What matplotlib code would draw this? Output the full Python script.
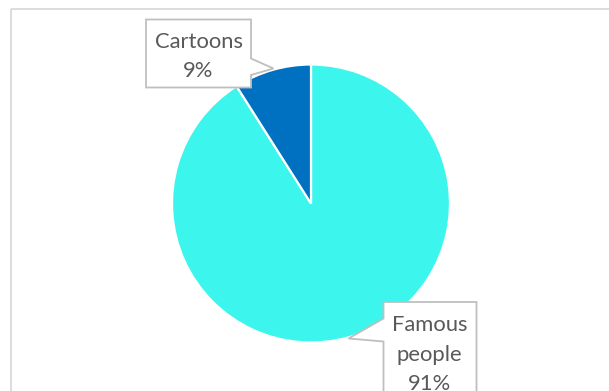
import matplotlib
matplotlib.use("Agg")
import matplotlib.pyplot as plt
from matplotlib.patches import Polygon
from matplotlib.lines import Line2D

# Chart data
categories = ["Famous people", "Cartoons"]
shares = [91, 9]
colors = ["#3CF6EE", "#0070C0"]
label_lines = [["Famous", "people"], ["Cartoons"]]

W, H = 609, 391
fig = plt.figure(figsize=(W / 100, H / 100), dpi=100)
ax = fig.add_axes([0, 0, 1, 1])
ax.set_xlim(0, W)
ax.set_ylim(0, H)
ax.set_aspect("equal")
ax.axis("off")


def px(x, y):
    """Convert top-left pixel coordinates to axes data coordinates."""
    return x, H - y


# Chart area frame (right and bottom edges fall outside the canvas)
frame_kw = dict(color="#D9D9D9", lw=1.3, solid_capstyle="butt")
ax.add_line(Line2D([10.5, W + 5], [H - 8.5, H - 8.5], **frame_kw))
ax.add_line(Line2D([10.5, 10.5], [H - 8.5, -5], **frame_kw))

# Pie: clockwise from 12 o'clock
cx, cy = px(311, 203.5)
ax.pie(shares, colors=colors, startangle=90, counterclock=False,
       center=(cx, cy), radius=139,
       wedgeprops=dict(edgecolor="white", linewidth=1.6), frame=True)
ax.set_xlim(0, W)
ax.set_ylim(0, H)
ax.axis("off")

total = sum(shares)
label_text = {c: l + [f"{v / total * 100:.0f}%"]
              for c, v, l in zip(categories, shares, label_lines)}

callout_kw = dict(closed=True, facecolor="white", edgecolor="#BFBFBF",
                  linewidth=1.3, zorder=5)
text_kw = dict(ha="center", va="baseline", color="#595959", fontsize=15.8,
               family="Lato", zorder=6)
LINE_STEP = 29.8


def draw_label(lines, x, first_baseline):
    for i, line in enumerate(lines):
        ax.text(*px(x, first_baseline + i * LINE_STEP), line, **text_kw)


# Cartoons callout: pointer on the right edge
cart_pts = [(146, 19.5), (251, 19.5), (251, 58.5), (273.5, 68.5),
            (251, 75), (251, 87.5), (146, 87.5)]
ax.add_patch(Polygon([px(*p) for p in cart_pts], **callout_kw))
draw_label(label_text["Cartoons"], 198.5, 47.5)

# Famous people callout: pointer on the left edge, box runs past the bottom
fam_pts = [(383.5, 302), (476.5, 302), (476.5, 400), (383.5, 400),
           (383.5, 341.5), (348.5, 338.5), (383.5, 318.5)]
ax.add_patch(Polygon([px(*p) for p in fam_pts], **callout_kw))
draw_label(label_text["Famous people"], 429.5, 330.8)

fig.savefig("out.png", dpi=100)
